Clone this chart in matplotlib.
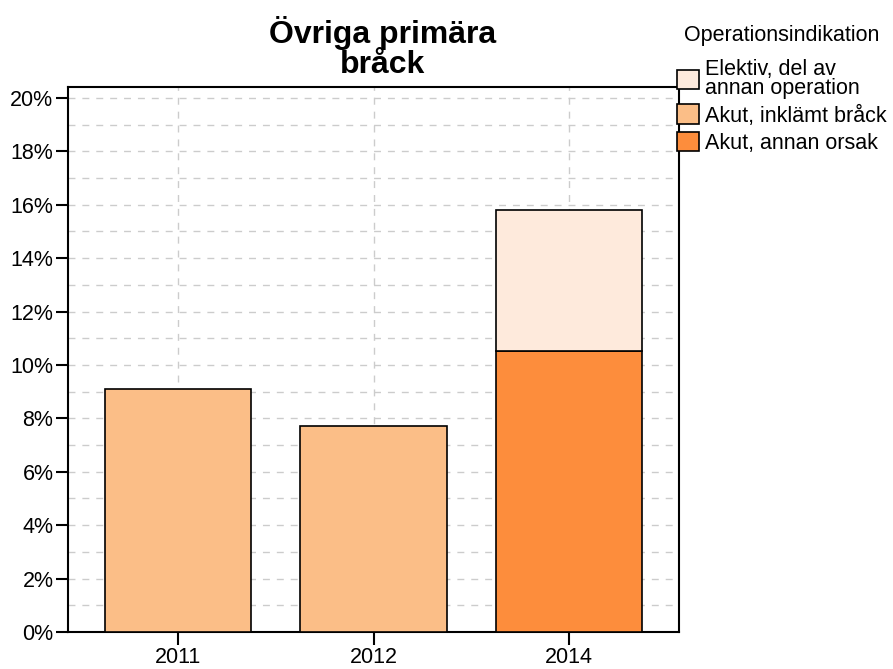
import matplotlib
matplotlib.use("Agg")
import matplotlib.pyplot as plt
from matplotlib.ticker import MultipleLocator, FuncFormatter
import numpy as np

plt.rcParams['font.family'] = ['Liberation Sans', 'DejaVu Sans']

# data (percent)
years = ['2011', '2012', '2014']
series = ['Elektiv, del av\nannan operation', 'Akut, inklämt bråck', 'Akut, annan orsak']
akut_annan = [0.0, 0.0, 10.52]
akut_inklamt = [9.10, 7.71, 0.0]
elektiv = [0.0, 0.0, 5.28]
colors = ['#feeadc', '#fbbe87', '#fd8d3c']

fig = plt.figure(figsize=(8.93, 6.69), dpi=100)
ax = fig.add_axes([68 / 893, 37 / 669, 611 / 893, 545 / 669])

x = np.arange(len(years))
w = 0.747
bottom = np.zeros(len(years))
handles = {}
for name, vals, col in [(series[2], akut_annan, colors[2]),
                        (series[1], akut_inklamt, colors[1]),
                        (series[0], elektiv, colors[0])]:
    vals = np.array(vals)
    mask = vals > 0
    b = ax.bar(x[mask], vals[mask], w, bottom=bottom[mask], color=col,
               edgecolor='black', linewidth=1.2, zorder=3, label=name)
    handles[name] = b
    bottom += vals

ax.set_xlim(-0.5627, 2.5627)
ax.set_ylim(0, 20.41)
ax.set_xticks(x)
ax.set_xticklabels(years)
ax.yaxis.set_major_locator(MultipleLocator(2))
ax.yaxis.set_minor_locator(MultipleLocator(1))
ax.yaxis.set_major_formatter(FuncFormatter(lambda v, p: f'{v:.0f}%'))
ax.tick_params(axis='both', which='major', direction='out', length=9, width=1.5,
               labelsize=15.5, pad=1.5, color='black')
ax.tick_params(axis='y', which='minor', length=0)
ax.grid(axis='y', which='both', color='#cccccc', linestyle=(0, (5, 5)), linewidth=1, zorder=0)
ax.grid(axis='x', which='major', color='#cccccc', linestyle=(0, (5, 5)), linewidth=1, zorder=0)
ax.set_axisbelow(True)
for s in ax.spines.values():
    s.set_linewidth(1.5)

fig.text(383 / 893, 1 - 48 / 669, 'Övriga primära\nbråck', ha='center', va='center',
         fontsize=23, fontweight='bold', linespacing=0.97)

leg = fig.legend([handles[s] for s in series], series, loc='upper left',
                 bbox_to_anchor=(677 / 893, 1 - 25 / 669), frameon=False,
                 title='Operationsindikation', fontsize=15.5, title_fontsize=15.5,
                 handlelength=1.0, handleheight=1.0, handletextpad=0.3,
                 labelspacing=0.26, borderpad=0, borderaxespad=0)
for t in leg.get_texts():
    t.set_linespacing(0.9)
leg._legend_box.sep = 9

fig.savefig('out.png', dpi=100)
